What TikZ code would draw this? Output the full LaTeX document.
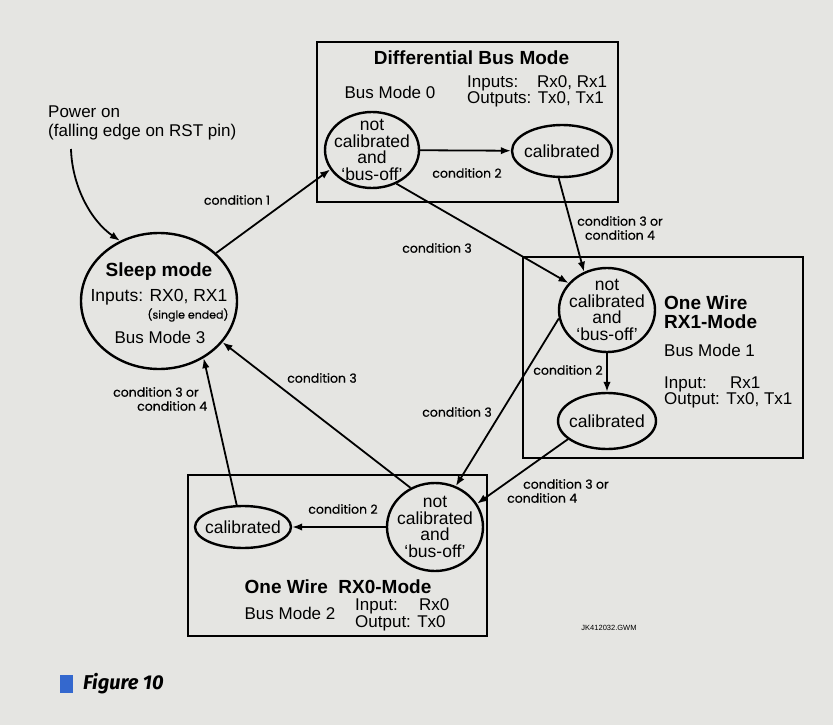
\documentclass[tikz,border=0pt]{standalone}
\usepackage{fontspec}
\setmainfont{Liberation Sans}
\newfontfamily\condfont[FakeBold=0.5]{Poppins}
\newfontfamily\figfont{Fira Sans}
\usetikzlibrary{shapes.geometric,arrows.meta}
\definecolor{pagebg}{RGB}{229,229,226}
\definecolor{figblue}{RGB}{52,104,206}

\begin{document}
\begin{tikzpicture}[x=1pt, y=-1pt, >={Latex[length=10pt,width=7.5pt]},
  state/.style={draw, ellipse, line width=2.4pt, inner sep=0pt},
  stext/.style={align=center, inner sep=0pt, font=\fontsize{17.5}{16.5}\selectfont},
  notcal/.style={state, label={[stext]center:not\\calibrated\\and\\`bus-off'}},
  cal/.style={state, label={[stext]center:calibrated}},
  modebox/.style={draw, rectangle, line width=1.5pt, inner sep=0pt},
  trans/.style={->, line width=1.8pt},
  cond/.style={inner sep=0pt, align=center, font=\condfont\fontsize{12.5}{14}\selectfont},
  txt/.style={inner sep=0pt, align=left, font=\fontsize{17}{19}\selectfont},
  heading/.style={inner sep=0pt, align=left, font=\bfseries\fontsize{19}{19}\selectfont}]

  \path[fill=pagebg, use as bounding box] (0,0) rectangle (833,725);

  % mode boxes
  \node[modebox, minimum width=301pt, minimum height=160pt] (diff) at (467.5,122) {};
  \node[modebox, minimum width=280pt, minimum height=201pt] (rxone) at (663,357.5) {};
  \node[modebox, minimum width=299pt, minimum height=161pt] (rxzero) at (337.5,555.5) {};

  % states
  \node[state, minimum width=156pt, minimum height=136pt] (sleep) at (159,301) {};
  \node[notcal, minimum width=94pt, minimum height=76pt] (dnc) at (372,150) {};
  \node[cal, minimum width=100pt, minimum height=52pt] (dcal) at (562,151) {};
  \node[notcal, minimum width=96pt, minimum height=84pt] (onc) at (607,310) {};
  \node[cal, minimum width=98pt, minimum height=56pt] (ocal) at (607,421) {};
  \node[notcal, minimum width=96pt, minimum height=88pt] (znc) at (435,527) {};
  \node[cal, minimum width=96pt, minimum height=42pt] (zcal) at (243,527) {};

  \node[heading] (sleepname) at (159,272) {Sleep mode};
  \node[txt, font=\fontsize{17.5}{19}\selectfont] (sleepin) at (159,297) {Inputs: RX0, RX1};
  \node[cond, font=\condfont\fontsize{11}{12}\selectfont] (sleepse) at (188,315) {(single ended)};
  \node[txt] (sleepbm) at (160,337) {Bus Mode 3};

  \node[txt, anchor=west] (power) at (48,122.5) {Power on\\(falling edge on RST pin)};
  \coordinate (pwr) at (71,149);
  \draw[trans] (pwr) .. controls (72,185) and (90,220) .. (sleep.123);

  % transitions
  \draw[trans] (sleep.40) -- (dnc.205);
  \draw[trans] (dnc) -- (dcal);
  \draw[trans] (dnc.-54) -- (onc.145);
  \draw[trans] (dcal.-97) -- (onc.121);
  \draw[trans] (onc) -- (ocal);
  \draw[trans] (onc.190) -- (znc.63);
  \draw[trans] (ocal.205) -- (znc.29);
  \draw[trans] (znc) -- (zcal);
  \draw[trans] (znc.122) -- (sleep.-33);
  \draw[trans] (zcal.106) -- (sleep.-52);

  \node[cond] (c1) at (237,200) {condition 1};
  \node[cond] (c2d) at (467,173) {condition 2};
  \node[cond] (c3d) at (437,248) {condition 3};
  \node[cond] (c34d) at (620,228) {condition 3 or\\condition 4};
  \node[cond] (c2o) at (568,370) {condition 2};
  \node[cond] (c3o) at (457,412) {condition 3};
  \node[cond, anchor=west, align=left] (c34o) at (507,491) {\hspace*{16pt}condition 3 or\\condition 4};
  \node[cond] (c2z) at (343,509) {condition 2};
  \node[cond] (c3z) at (322,378) {condition 3};
  \node[cond, anchor=west, align=left] (c34z) at (113,399) {condition 3 or\\\hspace*{24pt}condition 4};

  % texts in the boxes
  \node[heading] (diffname) at (471.5,58) {Differential Bus Mode};
  \node[txt] (diffbm) at (390,92) {Bus Mode 0};
  \node[txt, anchor=west, font=\fontsize{17}{13.5}\selectfont] (diffio) at (467,91.5) {\makebox[70pt][l]{Inputs:}Rx0, Rx1\\Outputs: Tx0, Tx1};

  \node[heading, anchor=west] (onename) at (664,312.5) {One Wire\\RX1-Mode};
  \node[txt, anchor=west] (onebm) at (664,350) {Bus Mode 1};
  \node[txt, anchor=west, font=\fontsize{17}{13.5}\selectfont] (oneio) at (664,392.5) {\makebox[66pt][l]{Input:}Rx1\\Output: Tx0, Tx1};

  \node[heading] (zeroname) at (338,587) {One Wire\ \ RX0-Mode};
  \node[txt] (zerobm) at (290,613) {Bus Mode 2};
  \node[txt, anchor=west, font=\fontsize{17}{13.5}\selectfont] (zeroio) at (355,615) {\makebox[64pt][l]{Input:}Rx0\\Output: Tx0};

  \node[inner sep=0pt, font=\fontsize{7.5}{8}\selectfont] (ref) at (609,628) {JK412032.GWM};

  \node[fill=figblue, minimum width=13pt, minimum height=18pt, inner sep=0pt] (figsq) at (66.5,684) {};
  \node[anchor=west, inner sep=0pt, font=\figfont\bfseries\itshape\fontsize{20}{22}\selectfont] (figcap) at (83,684) {Figure 10};
\end{tikzpicture}
\end{document}
